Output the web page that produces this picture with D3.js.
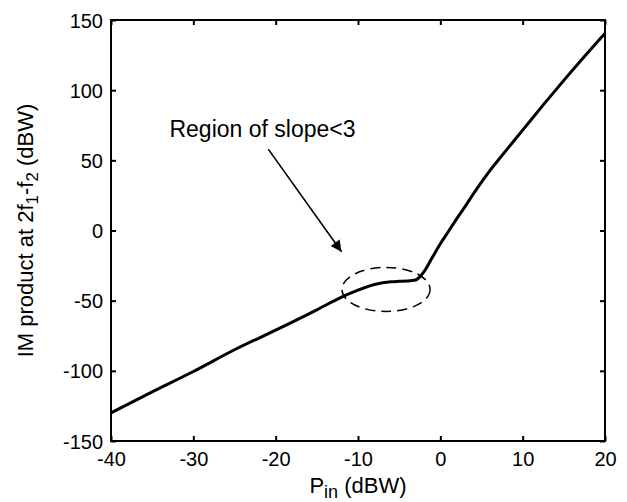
<!DOCTYPE html>
<html><head><meta charset="utf-8">
<script src="https://cdn.jsdelivr.net/npm/d3@7"></script>
<style>body{margin:0;background:#fff}svg{display:block}text{font-family:"Liberation Sans",Arial,sans-serif;fill:#000}</style>
</head><body><svg id="c" width="627" height="502"></svg>
<script>
const pin = [-40,-35,-30,-25,-20,-15,-12,-10,-8,-6,-5,-4,-3,-2.5,-2,-1,0,1,2,3,4,5,6,7.5,10,12.5,15,17.5,20];
const im  = [-130,-115,-100.5,-85,-71,-56.5,-47.5,-42.5,-38.5,-36.5,-36.2,-36,-35.3,-33,-29.5,-19.5,-9.5,-0.5,8.5,17,26,34.5,42.5,53.5,71.5,89.5,107,124,140.5];
const xTicks = [-40,-30,-20,-10,0,10,20];
const yTicks = [-150,-100,-50,0,50,100,150];
const ellipse = {cx:-6.6, cy:-42, rx:5.35, ry:15.7};
const arrow = {x1:-20.9, y1:58, x2:-12.0, y2:-15.1};
const note = {x:-32.9, y:66.5, text:"Region of slope<3"};

const svg = d3.select("#c");
const L=111,R=605,T=20,B=441;
const x = d3.scaleLinear().domain([-40,20]).range([L,R]);
const y = d3.scaleLinear().domain([-150,150]).range([B,T]);
const fmt = d => String(d);

svg.append("defs").append("marker").attr("id","ah").attr("viewBox","0 0 10 10")
  .attr("refX",10).attr("refY",5).attr("markerWidth",14).attr("markerHeight",11)
  .attr("markerUnits","userSpaceOnUse").attr("orient","auto")
  .append("path").attr("d","M0,0L10,5L0,10Z").attr("fill","#000");

// curve
svg.append("path").datum(pin.map((v,i)=>[v,im[i]]))
  .attr("d", d3.line().x(d=>x(d[0])).y(d=>y(d[1])).curve(d3.curveMonotoneX))
  .attr("fill","none").attr("stroke","#000").attr("stroke-width",3);

// ellipse
svg.append("ellipse").attr("cx",x(ellipse.cx)).attr("cy",y(ellipse.cy))
  .attr("rx",x(ellipse.cx+ellipse.rx)-x(ellipse.cx)).attr("ry",y(ellipse.cy-ellipse.ry)-y(ellipse.cy))
  .attr("fill","none").attr("stroke","#000").attr("stroke-width",1.5).attr("stroke-dasharray","10,6");

// arrow
svg.append("line").attr("x1",x(arrow.x1)).attr("y1",y(arrow.y1)).attr("x2",x(arrow.x2)).attr("y2",y(arrow.y2))
  .attr("stroke","#000").attr("stroke-width",1.6).attr("marker-end","url(#ah)");

svg.append("text").attr("x",x(note.x)).attr("y",y(note.y)).attr("font-size",23).text(note.text);

// axes
const fs = 20;
const gx = svg.append("g").attr("transform",`translate(0,${B})`)
  .call(d3.axisBottom(x).tickValues(xTicks).tickSize(-5).tickPadding(11).tickFormat(fmt));
const gxt = svg.append("g").attr("transform",`translate(0,${T})`)
  .call(d3.axisTop(x).tickValues(xTicks).tickSize(-5).tickFormat(""));
const gy = svg.append("g").attr("transform",`translate(${L},0)`)
  .call(d3.axisLeft(y).tickValues(yTicks).tickSize(-5).tickPadding(8).tickFormat(fmt));
const gyr = svg.append("g").attr("transform",`translate(${R},0)`)
  .call(d3.axisRight(y).tickValues(yTicks).tickSize(-5).tickFormat(""));
[gx,gxt,gy,gyr].forEach(g=>{
  g.select(".domain").remove();
  g.selectAll("line").attr("stroke","#000").attr("stroke-width",2);
  g.selectAll("text").attr("font-size",fs).attr("font-family","Liberation Sans, Arial, sans-serif").attr("fill","#000");
});
gy.selectAll("text").attr("dy","0.35em");
svg.append("rect").attr("x",L).attr("y",T).attr("width",R-L).attr("height",B-T)
  .attr("fill","none").attr("stroke","#000").attr("stroke-width",2);

// x label
const xl = svg.append("text").attr("x",(L+R)/2).attr("y",493).attr("text-anchor","middle").attr("font-size",22);
xl.append("tspan").text("P");
xl.append("tspan").attr("font-size",18).attr("dy",5).text("in");
xl.append("tspan").attr("dy",-5).text(" (dBW)");

// y label
const yl = svg.append("text").attr("transform",`translate(33,${(T+B)/2}) rotate(-90)`)
  .attr("text-anchor","middle").attr("font-size",22);
yl.append("tspan").text("IM product at 2f");
yl.append("tspan").attr("font-size",17).attr("dy",5).text("1");
yl.append("tspan").attr("dy",-5).text("-f");
yl.append("tspan").attr("font-size",17).attr("dy",5).text("2");
yl.append("tspan").attr("dy",-5).text(" (dBW)");
</script></body></html>
